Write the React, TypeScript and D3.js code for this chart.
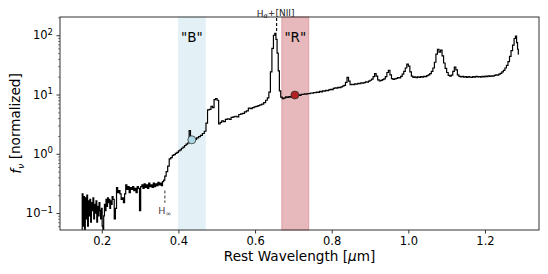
// @ts-nocheck
import React from "react";
import * as d3 from "d3";

// rest wavelength (micron) and normalized f_nu
// blue / UV part (coarse prism resolution)
const WAVE_BLUE = [
  0.148, 0.150, 0.152, 0.154, 0.156, 0.158, 0.160, 0.162, 0.164, 0.166, 0.168, 0.170, 0.172, 0.174, 0.176, 0.178,
  0.180, 0.182, 0.184, 0.186, 0.188, 0.190, 0.192, 0.194, 0.196, 0.198, 0.200, 0.202, 0.204, 0.206, 0.208, 0.210,
  0.212, 0.214, 0.216, 0.218, 0.220, 0.222, 0.224, 0.226, 0.228, 0.231, 0.234, 0.237, 0.240, 0.243, 0.246, 0.249,
  0.252, 0.255, 0.258, 0.261, 0.264, 0.267, 0.270, 0.273, 0.276, 0.279, 0.282, 0.285, 0.288, 0.291, 0.294, 0.297,
  0.300, 0.303, 0.306, 0.309, 0.312, 0.315, 0.318, 0.321, 0.324, 0.327, 0.330, 0.333, 0.336, 0.339, 0.342, 0.345,
  0.348, 0.351, 0.354, 0.357, 0.360, 0.363, 0.366, 0.370, 0.374, 0.378, 0.382, 0.386, 0.390, 0.394, 0.398, 0.402,
  0.406, 0.410, 0.414, 0.418, 0.422, 0.426, 0.430, 0.433, 0.437, 0.441, 0.445, 0.450, 0.455, 0.460, 0.465, 0.470,
  0.474, 0.478, 0.483, 0.487, 0.491, 0.495, 0.499, 0.503, 0.507, 0.511, 0.515, 0.520, 0.525, 0.530, 0.535, 0.540,
  0.545, 0.550, 0.555, 0.560, 0.565, 0.570, 0.575, 0.580, 0.585, 0.590, 0.595, 0.600, 0.605, 0.610, 0.615, 0.620,
  0.625, 0.630, 0.634, 0.638, 0.642, 0.646, 0.650, 0.653, 0.656, 0.659, 0.662, 0.665, 0.669, 0.673,
];
const FLUX_BLUE = [
  0.05, 0.21, 0.06, 0.19, 0.05, 0.18, 0.08, 0.20, 0.06, 0.16, 0.09, 0.17, 0.07, 0.15, 0.11, 0.18,
  0.08, 0.14, 0.10, 0.16, 0.07, 0.13, 0.09, 0.15, 0.11, 0.08, 0.12, 0.06, 0.05, 0.09, 0.14, 0.11,
  0.17, 0.13, 0.18, 0.15, 0.17, 0.12, 0.16, 0.14, 0.19, 0.17, 0.08, 0.12, 0.27, 0.22, 0.24, 0.21,
  0.17, 0.18, 0.15, 0.21, 0.30, 0.25, 0.28, 0.22, 0.27, 0.25, 0.28, 0.24, 0.26, 0.22, 0.28, 0.26,
  0.11, 0.28, 0.30, 0.26, 0.31, 0.27, 0.30, 0.26, 0.32, 0.28, 0.30, 0.27, 0.32, 0.28, 0.31, 0.29,
  0.33, 0.30, 0.32, 0.29, 0.34, 0.36, 0.42, 0.50, 0.62, 0.82, 0.86, 0.94, 0.97, 1.02, 1.06, 1.12,
  1.16, 1.24, 1.30, 1.38, 1.45, 1.52, 2.45, 1.70, 1.72, 1.66, 1.75, 1.85, 1.95, 2.05, 2.20, 2.40,
  3.3, 5.5, 5.6, 6.3, 6.0, 8.2, 8.5, 8.0, 3.2, 3.4, 3.6, 3.5, 3.8, 3.9, 3.8, 4.1,
  4.2, 4.3, 4.2, 4.6, 4.7, 4.8, 5.1, 5.3, 5.9, 5.8, 6.0, 6.2, 6.3, 6.5, 6.7, 6.9,
  7.3, 8.0, 8.8, 11, 24, 60, 100, 108, 85, 50, 25, 11.5, 9.0, 8.5,
];
// red / near-IR part (finer sampling)
const WAVE_RED = [
  0.678, 0.682, 0.686, 0.690, 0.694, 0.698, 0.702, 0.706, 0.710, 0.714, 0.718, 0.722, 0.726, 0.730, 0.734, 0.738,
  0.742, 0.746, 0.750, 0.754, 0.758, 0.762, 0.766, 0.770, 0.774, 0.778, 0.782, 0.786, 0.790, 0.794, 0.798, 0.802,
  0.806, 0.810, 0.814, 0.818, 0.822, 0.826, 0.830, 0.834, 0.838, 0.842, 0.846, 0.850, 0.854, 0.858, 0.862, 0.866,
  0.870, 0.874, 0.878, 0.882, 0.886, 0.890, 0.894, 0.898, 0.902, 0.906, 0.910, 0.914, 0.918, 0.922, 0.926, 0.930,
  0.934, 0.938, 0.942, 0.946, 0.950, 0.954, 0.958, 0.962, 0.966, 0.970, 0.974, 0.978, 0.982, 0.986, 0.990, 0.994,
  0.998, 1.002, 1.006, 1.010, 1.014, 1.018, 1.022, 1.026, 1.030, 1.034, 1.038, 1.042, 1.046, 1.050, 1.054, 1.058,
  1.062, 1.066, 1.070, 1.074, 1.078, 1.082, 1.086, 1.090, 1.094, 1.098, 1.102, 1.106, 1.110, 1.114, 1.118, 1.122,
  1.126, 1.130, 1.134, 1.138, 1.142, 1.146, 1.150, 1.154, 1.158, 1.162, 1.166, 1.170, 1.174, 1.178, 1.182, 1.186,
  1.190, 1.194, 1.198, 1.202, 1.206, 1.210, 1.214, 1.218, 1.222, 1.226, 1.230, 1.234, 1.238, 1.242, 1.246, 1.250,
  1.254, 1.258, 1.262, 1.266, 1.270, 1.274, 1.278, 1.281, 1.284, 1.286, 1.288,
];
const FLUX_RED = [
  8.8, 9.1, 8.9, 9.2, 9.0, 9.5, 9.7, 9.5, 9.8, 9.9, 9.7, 10.1, 10.0, 10.3, 10.1, 10.4,
  10.3, 10.6, 10.5, 10.8, 10.7, 11.0, 10.9, 11.3, 11.1, 11.5, 11.4, 11.8, 11.6, 12.0, 12.2, 12.1,
  12.7, 13.0, 12.8, 13.2, 13.0, 13.5, 13.8, 14.3, 16.0, 19.5, 16.8, 14.6, 14.9, 14.7, 15.1, 14.9,
  15.4, 15.2, 15.7, 15.5, 15.9, 16.3, 16.1, 16.8, 17.4, 18.2, 20.0, 22.5, 20.5, 17.6, 16.9, 17.3,
  17.8, 18.4, 20.0, 23.5, 25.5, 21.5, 18.5, 17.9, 18.3, 18.7, 19.2, 19.0, 20.2, 22.0, 24.5, 28.0,
  32.5, 30.0, 24.0, 20.5, 19.4, 19.8, 19.3, 19.9, 19.5, 20.1, 19.7, 20.3, 20.0, 20.8, 21.5, 22.5,
  24.5, 28.0, 35.0, 48.0, 58.0, 52.0, 56.0, 45.0, 34.0, 27.5, 23.5, 21.0, 20.5, 21.2, 24.5, 29.0,
  26.0, 21.5, 20.3, 19.8, 20.2, 19.6, 20.0, 19.5, 20.1, 19.7, 19.4, 20.0, 19.6, 20.3, 19.8, 20.1,
  19.7, 20.2, 19.9, 20.4, 20.0, 20.6, 20.2, 20.7, 20.4, 21.0, 21.4, 21.2, 22.0, 22.8, 24.0, 25.5,
  28.0, 31.0, 36.0, 44.0, 55.0, 68.0, 88.0, 97.0, 75.0, 58.0, 48.0,
];

const BANDS = [
  { name: '"B"', lo: 0.40, hi: 0.47, fill: "#e3f1f6", edge: "#e3f1f6", dot: [0.435, 1.72], dotFill: "#add8e6" },
  { name: '"R"', lo: 0.67, hi: 0.74, fill: "#e7b9bc", edge: "#de9fa4", dot: [0.704, 9.8], dotFill: "#b22222" },
];
const X_TICKS = [0.2, 0.4, 0.6, 0.8, 1.0, 1.2];
const Y_TICKS = [0.1, 1, 10, 100];
const Y_MINOR = [0.06, 0.07, 0.08, 0.09, 0.2, 0.3, 0.4, 0.5, 0.6, 0.7, 0.8, 0.9,
  2, 3, 4, 5, 6, 7, 8, 9, 20, 30, 40, 50, 60, 70, 80, 90, 200];
const H_ALPHA = 0.6563;
const H_INF = 0.3646;

const W = 548, H = 274;
const margin = { left: 60, right: 9, top: 17, bottom: 44 };
const FONT = "DejaVu Sans, sans-serif";

const App = () => {
  const svgRef = React.useRef(null);

  React.useEffect(() => {
    const x = d3.scaleLinear().domain([0.091, 1.341]).range([margin.left, W - margin.right]);
    const y = d3.scaleLog().domain([0.0518, 203]).range([H - margin.bottom, margin.top]);
    const svg = d3.select(svgRef.current);
    svg.selectAll("*").remove();

    svg.append("defs").append("clipPath").attr("id", "plotclip")
      .append("rect")
      .attr("x", margin.left).attr("y", margin.top)
      .attr("width", W - margin.left - margin.right)
      .attr("height", H - margin.top - margin.bottom);

    // shaded bands
    BANDS.forEach((b) => {
      svg.append("rect")
        .attr("x", x(b.lo)).attr("y", margin.top)
        .attr("width", x(b.hi) - x(b.lo))
        .attr("height", H - margin.top - margin.bottom)
        .attr("fill", b.fill)
        .attr("stroke", b.edge).attr("stroke-width", 1);
    });

    // spectrum
    const pts = WAVE_BLUE.map((w, i) => [w, FLUX_BLUE[i]])
      .concat(WAVE_RED.map((w, i) => [w, FLUX_RED[i]]));
    const line = d3.line()
      .x((d) => x(d[0]))
      .y((d) => y(d[1]))
      .curve(d3.curveStep);
    svg.append("path")
      .attr("clip-path", "url(#plotclip)")
      .attr("d", line(pts))
      .attr("fill", "none")
      .attr("stroke", "#000")
      .attr("stroke-width", 1.2);

    // band dots + labels
    BANDS.forEach((b) => {
      svg.append("circle")
        .attr("cx", x(b.dot[0])).attr("cy", y(b.dot[1])).attr("r", 4)
        .attr("fill", b.dotFill).attr("stroke", "#333").attr("stroke-width", 0.8);
      svg.append("text")
        .attr("x", x((b.lo + b.hi) / 2)).attr("y", 41.5)
        .attr("text-anchor", "middle")
        .attr("font-family", FONT).attr("font-size", 13.5).attr("fill", "#000")
        .text(b.name);
    });

    // frame
    svg.append("rect")
      .attr("x", margin.left).attr("y", margin.top)
      .attr("width", W - margin.left - margin.right)
      .attr("height", H - margin.top - margin.bottom)
      .attr("fill", "none").attr("stroke", "#333").attr("stroke-width", 1);

    // x axis
    const xAxis = d3.axisBottom(x).tickValues(X_TICKS).tickSize(3.5).tickPadding(3.5)
      .tickFormat(d3.format(".1f"));
    const xg = svg.append("g").attr("transform", `translate(0,${H - margin.bottom})`).call(xAxis);
    xg.select(".domain").remove();
    xg.selectAll("line").attr("stroke", "#333");
    xg.selectAll("text").attr("font-family", FONT).attr("font-size", 11.5).attr("fill", "#000");

    // y axis (log)
    const yMinor = d3.axisLeft(y).tickValues(Y_MINOR).tickSize(2).tickFormat("");
    const ym = svg.append("g").attr("transform", `translate(${margin.left},0)`).call(yMinor);
    ym.select(".domain").remove();
    ym.selectAll("line").attr("stroke", "#333").attr("stroke-width", 0.6);

    const yAxis = d3.axisLeft(y).tickValues(Y_TICKS).tickSize(3.5).tickPadding(3.5).tickFormat("");
    const yg = svg.append("g").attr("transform", `translate(${margin.left},0)`).call(yAxis);
    yg.select(".domain").remove();
    yg.selectAll("line").attr("stroke", "#333");
    yg.selectAll(".tick text").each(function (d) {
      const e = Math.round(Math.log10(d));
      const t = d3.select(this)
        .attr("font-family", FONT).attr("font-size", 11.5).attr("fill", "#000")
        .attr("dy", "0.32em");
      t.append("tspan").text("10");
      t.append("tspan").attr("font-size", 8.5).attr("dy", "-0.55em")
        .text(e < 0 ? "\u2212" + Math.abs(e) : String(e));
    });

    // H-alpha annotation
    svg.append("line")
      .attr("x1", x(H_ALPHA)).attr("x2", x(H_ALPHA))
      .attr("y1", y(195)).attr("y2", y(110))
      .attr("stroke", "#000").attr("stroke-width", 1.1).attr("stroke-dasharray", "3,2");
    const ha = svg.append("text")
      .attr("x", x(H_ALPHA) - 1).attr("y", 16.5)
      .attr("text-anchor", "middle")
      .attr("font-family", FONT).attr("font-size", 9).attr("fill", "#222");
    ha.append("tspan").text("H");
    ha.append("tspan").attr("font-size", 6.5).attr("font-style", "italic").attr("dy", "0.25em").text("\u03b1");
    ha.append("tspan").attr("dy", "-0.25em").text("+[NII]");

    // Balmer limit annotation
    svg.append("line")
      .attr("x1", x(H_INF)).attr("x2", x(H_INF))
      .attr("y1", y(0.24)).attr("y2", y(0.15))
      .attr("stroke", "#555").attr("stroke-width", 1.2).attr("stroke-dasharray", "3,2");
    const hi = svg.append("text")
      .attr("x", x(H_INF)).attr("y", 213.5)
      .attr("text-anchor", "middle")
      .attr("font-family", FONT).attr("font-size", 9.5).attr("fill", "#444");
    hi.append("tspan").text("H");
    hi.append("tspan").attr("font-size", 7).attr("dy", "0.3em").text("\u221e");

    // axis titles
    const xl = svg.append("text")
      .attr("x", (margin.left + W - margin.right) / 2).attr("y", 261)
      .attr("text-anchor", "middle")
      .attr("font-family", FONT).attr("font-size", 13.6).attr("fill", "#000");
    xl.append("tspan").text("Rest Wavelength [");
    xl.append("tspan").attr("font-style", "italic").text("\u03bc");
    xl.append("tspan").text("m]");

    const yl = svg.append("text")
      .attr("transform", `translate(21,${(margin.top + H - margin.bottom) / 2}) rotate(-90)`)
      .attr("text-anchor", "middle")
      .attr("font-family", FONT).attr("font-size", 13.6).attr("fill", "#000");
    yl.append("tspan").attr("font-style", "italic").text("f");
    yl.append("tspan").attr("font-style", "italic").attr("font-size", 9.5).attr("dy", "0.3em").text("\u03bd");
    yl.append("tspan").attr("dy", "-0.3em").text(" [normalized]");
  }, []);

  return (
    <svg ref={svgRef} width={W} height={H}
      style={{ position: "absolute", left: 0, top: 0, background: "#fff" }} />
  );
};

export default App;
